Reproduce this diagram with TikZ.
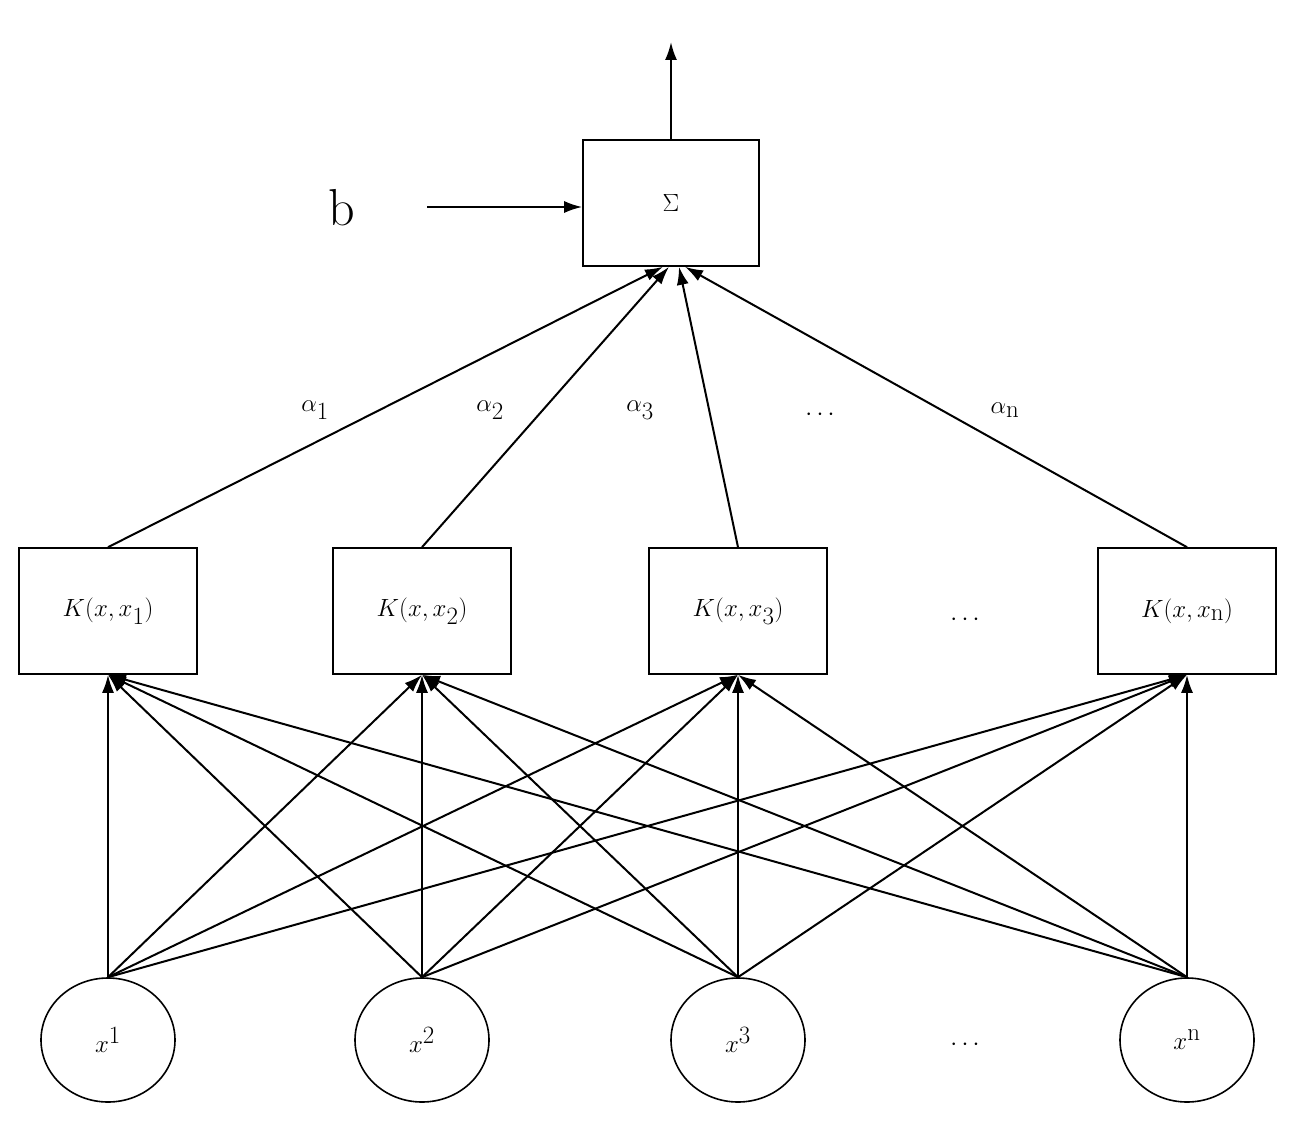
\documentclass[tikz,border=0pt]{standalone}
\begin{document}
\begin{tikzpicture}[x=1pt,y=-1pt,
  box/.style={draw,line width=1.6pt,minimum width=178pt,minimum height=126pt,inner sep=0pt,font=\fontsize{34}{38}\selectfont},
  sbox/.style={draw,line width=1.6pt,minimum width=176pt,minimum height=126pt,inner sep=0pt,font=\fontsize{40}{44}\selectfont},
  inp/.style={draw,ellipse,line width=1.6pt,minimum width=134pt,minimum height=124pt,inner sep=0pt,font=\fontsize{34}{38}\selectfont},
  ar/.style={line width=2pt,-{Latex[length=18pt,width=12pt]}},
  lab/.style={font=\fontsize{40}{44}\selectfont}]
\useasboundingbox (0,0) rectangle (1298,1121);
\usetikzlibrary{arrows.meta,shapes.geometric}
\node[sbox] (s) at (671,203) {$\Sigma$};
\coordinate (top) at (671,42);
\node[lab,font=\fontsize{52}{56}\selectfont] (b) at (342,208) {b};
\coordinate (bs) at (427,207);
\draw[ar] (s.north) -- (top);
\draw[ar] (bs) -- (s.west |- bs);
\foreach \i/\x/\t in {1/108/1,2/422/2,3/738/3,4/1187/\mathrm{n}}{
  \node[box] (k\i) at (\x,611) {$K(x,x_{\t})$};
  \node[inp] (c\i) at (\x,1040) {$x^{\t}$};
}
\node[lab] (d1) at (965,620) {$\cdots$};
\node[lab] (d2) at (965,1045) {$\cdots$};
\node[lab] (d3) at (820,415) {$\cdots$};
\foreach \i in {1,2,3,4}{\foreach \j in {1,2,3,4}{\draw[ar] (c\i.north) -- (k\j.south);}}
\draw[ar] (k1.north) -- ([xshift=-8pt]s.south);
\draw[ar] (k2.north) -- ([xshift=-2pt]s.south);
\draw[ar] (k3.north) -- ([xshift=8pt]s.south);
\draw[ar] (k4.north) -- ([xshift=14pt]s.south);
\node[lab] (a1) at (315,410) {$\alpha_1$};
\node[lab] (a2) at (490,410) {$\alpha_2$};
\node[lab] (a3) at (640,410) {$\alpha_3$};
\node[lab] (an) at (1005,410) {$\alpha_{\mathrm{n}}$};
\end{tikzpicture}
\end{document}
